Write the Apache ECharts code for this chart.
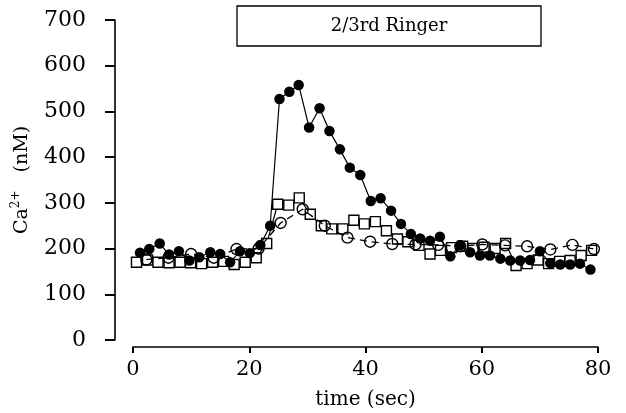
<!DOCTYPE html>
<html>
<head>
<meta charset="utf-8">
<script src="https://cdn.jsdelivr.net/npm/echarts@6/dist/echarts.min.js"></script>
<style>
html,body{margin:0;padding:0;background:#fff;}
#c{width:626px;height:413px;}
</style>
</head>
<body>
<div id="c"></div>
<script>
// filled circles (solid line)
var filledTime = [1.2,2.8,4.6,6.2,7.9,9.7,11.4,13.3,15.0,16.7,18.4,20.1,21.9,23.6,25.2,26.9,28.5,30.3,32.1,33.8,35.6,37.3,39.1,40.9,42.6,44.4,46.1,47.8,49.4,51.1,52.8,54.6,56.3,58.0,59.7,61.4,63.2,64.9,66.6,68.3,70.0,71.8,73.5,75.2,76.9,78.7];
var filledCa = [191,199,211,187,194,174,181,192,188,170,194,190,208,250,527,543,558,465,507,457,417,377,361,304,310,283,254,232,222,217,226,183,207,192,185,185,178,174,174,175,194,168,165,165,167,154];
// open squares (solid line)
var squareTime = [0.6,2.5,4.3,6.2,8.1,9.9,11.8,13.7,15.6,17.4,19.3,21.2,23.0,24.9,26.8,28.6,30.5,32.4,34.2,36.1,38.0,39.8,41.7,43.6,45.5,47.3,49.2,51.1,52.9,54.8,56.7,58.5,60.4,62.3,64.1,65.9,67.8,69.7,71.5,73.4,75.2,77.1,78.9];
var squareCa = [170,175,170,169,170,169,167,170,172,165,170,180,211,297,295,311,275,250,243,243,262,254,259,239,221,215,207,188,196,202,205,200,203,200,211,163,167,175,167,172,174,185,196];
// open circles (dashed line)
var circleTime = [2.3,6.1,10.0,13.9,17.8,21.6,25.4,29.2,33.0,36.9,40.8,44.6,48.6,52.5,56.3,60.1,64.0,67.8,71.8,75.6,79.3];
var circleCa = [176,180,188,180,199,200,256,286,250,224,215,210,209,208,205,209,207,205,198,208,199];

var xTicks = [0,20,40,60,80];
var yTicks = [0,100,200,300,400,500,600,700];
var xTitle = 'time (sec)';
var boxLabel = '2/3rd Ringer';

function pairs(t, v){ return t.map(function(x,i){ return [x, v[i]]; }); }

var FONT = 'DejaVu Serif';
var chart = echarts.init(document.getElementById('c'), null, {renderer:'canvas'});
chart.setOption({
  backgroundColor:'#fff',
  animation:false,
  grid:{left:133, right:28, top:20, bottom:73, containLabel:false, outerBoundsMode:'none'},
  xAxis:{
    type:'value', min:xTicks[0], max:xTicks[xTicks.length-1], interval:20,
    offset:7,
    axisLine:{show:true, onZero:false, lineStyle:{color:'#000', width:1.6}},
    axisTick:{show:true, inside:false, length:6, lineStyle:{color:'#000', width:2}},
    axisLabel:{color:'#000', fontFamily:FONT, fontSize:21, margin:12},
    splitLine:{show:false},
    name:xTitle, nameLocation:'middle', nameGap:43,
    nameTextStyle:{color:'#000', fontFamily:FONT, fontSize:20}
  },
  yAxis:{
    type:'value', min:yTicks[0], max:yTicks[yTicks.length-1], interval:100,
    offset:18,
    axisLine:{show:true, onZero:false, lineStyle:{color:'#000', width:1.6}},
    axisTick:{show:true, inside:false, length:10, lineStyle:{color:'#000', width:2}},
    axisLabel:{color:'#000', fontFamily:FONT, fontSize:22, margin:29},
    splitLine:{show:false},
    name:'{n|Ca}{s|2+}{n|   (nM)}', nameLocation:'middle', nameGap:83, nameRotate:90,
    nameMoveOverlap:false,
    nameTextStyle:{
      color:'#000', fontFamily:FONT, fontSize:19,
      rich:{
        n:{fontFamily:FONT, fontSize:19, color:'#000', lineHeight:22, verticalAlign:'bottom'},
        s:{fontFamily:FONT, fontSize:12, color:'#000', lineHeight:22, verticalAlign:'top'}
      }
    }
  },
  graphic:[
    {type:'rect', shape:{x:237, y:6, width:304, height:40}, style:{fill:'none', stroke:'#000', lineWidth:1.3}, silent:true},
    {type:'text', x:389, y:26, style:{text:boxLabel, fontFamily:FONT, fontSize:18, fill:'#000', align:'center', verticalAlign:'middle'}, silent:true}
  ],
  series:[
    {
      type:'line', data:pairs(squareTime, squareCa), symbol:'rect', symbolSize:10,
      itemStyle:{color:'#fff', borderColor:'#000', borderWidth:1.4},
      lineStyle:{color:'#000', width:1.2}, z:2
    },
    {
      type:'line', data:pairs(filledTime, filledCa), symbol:'circle', symbolSize:10.5,
      itemStyle:{color:'#000', borderColor:'#000', borderWidth:0},
      lineStyle:{color:'#000', width:1.2}, z:3
    },
    {
      type:'line', data:pairs(circleTime, circleCa), symbol:'circle', symbolSize:11,
      itemStyle:{color:'rgba(0,0,0,0)', borderColor:'#000', borderWidth:1.4},
      lineStyle:{color:'#000', width:1.3, type:[7,5]}, z:4
    }
  ]
});
</script>
</body>
</html>
